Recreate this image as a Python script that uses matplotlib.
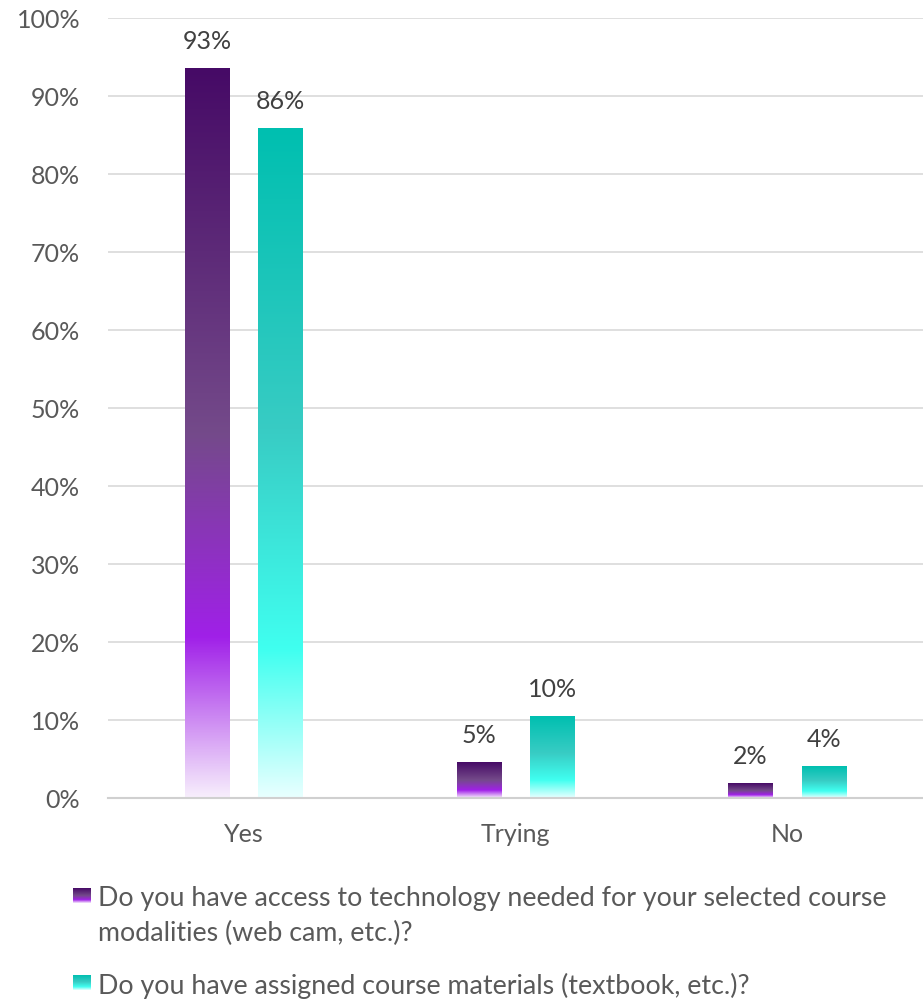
import numpy as np
import matplotlib.pyplot as plt
from matplotlib.colors import LinearSegmentedColormap
from matplotlib.ticker import FuncFormatter

plt.rcParams['font.family'] = ['Lato', 'DejaVu Sans']

categories = ['Yes', 'Trying', 'No']
tech_access = [93.5, 4.5, 1.9]
materials = [85.8, 10.4, 4.0]
labels_tech = ['93%', '5%', '2%']
labels_mat = ['86%', '10%', '4%']
legend_names = ['Do you have access to technology needed for your selected course\nmodalities (web cam, etc.)?',
                'Do you have assigned course materials (textbook, etc.)?']

# gradients go bottom -> top
purple_cmap = LinearSegmentedColormap.from_list('purp', [(0.0, '#F7EEFC'), (0.22, '#A020E8'),
                                                          (0.5, '#744A8A'), (1.0, '#460A66')])
teal_cmap = LinearSegmentedColormap.from_list('teal', [(0.0, '#E8FFFF'), (0.22, '#40FFF0'),
                                                        (0.55, '#38CCC4'), (1.0, '#00BFB0')])

text_col = '#595959'
fig = plt.figure(figsize=(9.23, 10), dpi=100)
ax = fig.add_axes([0.117, 0.202, 0.883, 0.78])

x = np.arange(len(categories))
w = 0.162
off = 0.135
grad = np.linspace(0, 1, 256).reshape(-1, 1)

for vals, labs, cmap, dx in [(tech_access, labels_tech, purple_cmap, -off),
                             (materials, labels_mat, teal_cmap, off)]:
    bars = ax.bar(x + dx, vals, w, color='none', zorder=2)
    for b, lab in zip(bars, labs):
        x0, h = b.get_x(), b.get_height()
        ax.imshow(grad, cmap=cmap, origin='lower', aspect='auto',
                  extent=[x0, x0 + w, 0, h], zorder=2)
        ax.text(x0 + w / 2, h + 2.0, lab, ha='center', va='bottom',
                fontsize=18, color='#404040')

ax.set_xlim(-0.5, 2.5)
ax.set_ylim(0, 100)
ax.set_yticks(range(0, 101, 10))
ax.yaxis.set_major_formatter(FuncFormatter(lambda v, p: f'{int(v)}%'))
ax.set_xticks(x)
ax.set_xticklabels(categories)
ax.tick_params(axis='both', length=0, labelsize=18, labelcolor=text_col)
ax.tick_params(axis='x', pad=18)
ax.tick_params(axis='y', pad=20)
ax.grid(axis='y', color='#D9D9D9', linewidth=1.2, zorder=0)
ax.set_axisbelow(True)
for s in ['top', 'right', 'left']:
    ax.spines[s].set_visible(False)
ax.spines['bottom'].set_color('#D0D0D0')
ax.spines['bottom'].set_linewidth(1.5)

# legend
for i, (name, cmap) in enumerate(zip(legend_names, [purple_cmap, teal_cmap])):
    sq_y = [0.097, 0.010][i]
    lax = fig.add_axes([0.0795, sq_y, 0.0185, 0.015])
    lax.imshow(grad, cmap=cmap, origin='lower', aspect='auto')
    lax.axis('off')
    fig.text(0.106, [0.114, 0.027][i], name, fontsize=19.3, color=text_col,
             va='top', linespacing=1.5)

fig.savefig('out.png', dpi=100)
